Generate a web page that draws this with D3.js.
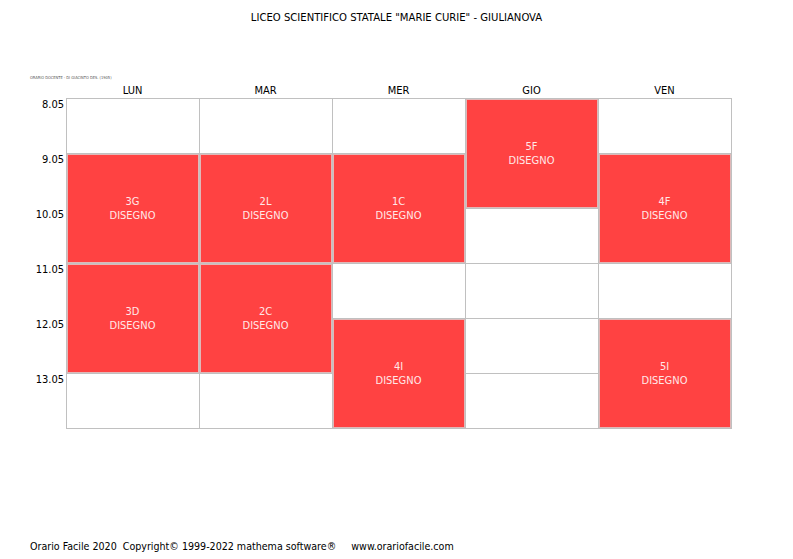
<!DOCTYPE html>
<meta charset="utf-8">
<head>
    <title>Orario</title>
</head>
<style>
    body { margin: 0; background: #fff; }
    text { font-family: "DejaVu Sans Condensed", "DejaVu Sans", sans-serif; font-stretch: condensed; }
</style>
<div id="chart"></div>
<script src="https://d3js.org/d3.v7.min.js"></script>
<script>
    // timetable data
    var days = ["LUN", "MAR", "MER", "GIO", "VEN"];
    var times = ["8.05", "9.05", "10.05", "11.05", "12.05", "13.05"];
    var lessonDay = ["LUN", "LUN", "MAR", "MAR", "MER", "MER", "GIO", "VEN", "VEN"];
    var lessonStart = ["9.05", "11.05", "9.05", "11.05", "9.05", "12.05", "8.05", "9.05", "12.05"];
    var lessonHours = [2, 2, 2, 2, 2, 2, 2, 2, 2];
    var lessonClass = ["3G", "3D", "2L", "2C", "1C", "4I", "5F", "4F", "5I"];
    var lessonSubject = ["DISEGNO", "DISEGNO", "DISEGNO", "DISEGNO", "DISEGNO", "DISEGNO", "DISEGNO", "DISEGNO", "DISEGNO"];

    var W = 793, H = 559;
    var svg = d3.select("#chart").append("svg")
        .attr("width", W).attr("height", H);

    var x = d3.scaleBand().domain(days).range([66, 731]);
    var y = d3.scaleBand().domain(times).range([98, 428]);

    var lessons = lessonDay.map(function(d, i) {
        return {day: d, start: lessonStart[i], hours: lessonHours[i],
                cls: lessonClass[i], subj: lessonSubject[i]};
    });

    // which slots are taken by a lesson
    var taken = {};
    lessons.forEach(function(l) {
        var s = times.indexOf(l.start);
        for (var k = 0; k < l.hours; k++) taken[l.day + "|" + times[s + k]] = true;
    });
    var empty = [];
    days.forEach(function(d) {
        times.forEach(function(t) {
            if (!taken[d + "|" + t]) empty.push({day: d, time: t});
        });
    });

    svg.append("text")
        .attr("x", W / 2).attr("y", 21)
        .attr("text-anchor", "middle")
        .attr("font-size", "11.2px")
        .text('LICEO SCIENTIFICO STATALE "MARIE CURIE" - GIULIANOVA');

    svg.append("text")
        .attr("x", 30).attr("y", 79)
        .attr("font-size", "4px")
        .attr("fill", "#555")
        .text("ORARIO DOCENTE  -  DI GIACINTO DES. (1905)");

    // day headers
    svg.selectAll(".day").data(days).enter().append("text")
        .attr("class", "day")
        .attr("x", function(d) { return x(d) + x.bandwidth() / 2; })
        .attr("y", 94)
        .attr("text-anchor", "middle")
        .attr("font-size", "11px")
        .text(function(d) { return d; });

    // hour labels
    svg.selectAll(".hour").data(times).enter().append("text")
        .attr("class", "hour")
        .attr("x", 64)
        .attr("y", function(d) { return y(d) + 10; })
        .attr("text-anchor", "end")
        .attr("font-size", "11px")
        .text(function(d) { return d; });

    // empty cells
    svg.selectAll(".cell").data(empty).enter().append("rect")
        .attr("class", "cell")
        .attr("x", function(d) { return x(d.day) + 0.5; })
        .attr("y", function(d) { return y(d.time) + 0.5; })
        .attr("width", x.bandwidth())
        .attr("height", y.bandwidth())
        .attr("fill", "#fff")
        .attr("stroke", "#c0c0c0");

    // lesson frames
    svg.selectAll(".frame").data(lessons).enter().append("rect")
        .attr("class", "frame")
        .attr("x", function(d) { return x(d.day) + 0.5; })
        .attr("y", function(d) { return y(d.start) + 0.5; })
        .attr("width", x.bandwidth())
        .attr("height", function(d) { return y.bandwidth() * d.hours; })
        .attr("fill", "#fff")
        .attr("stroke", "#c0c0c0");

    var g = svg.selectAll(".lesson").data(lessons).enter().append("g")
        .attr("class", "lesson");

    g.append("rect")
        .attr("x", function(d) { return x(d.day) + 1.5; })
        .attr("y", function(d) { return y(d.start) + 1.5; })
        .attr("width", x.bandwidth() - 2)
        .attr("height", function(d) { return y.bandwidth() * d.hours - 2; })
        .attr("fill", "#ff4242")
        .attr("stroke", "#e0b8b8");

    g.append("text")
        .attr("x", function(d) { return x(d.day) + x.bandwidth() / 2; })
        .attr("y", function(d) { return y(d.start) + y.bandwidth() * d.hours / 2 - 3; })
        .attr("text-anchor", "middle")
        .attr("font-size", "11px")
        .attr("fill", "#ffe8e8")
        .text(function(d) { return d.cls; });

    g.append("text")
        .attr("x", function(d) { return x(d.day) + x.bandwidth() / 2; })
        .attr("y", function(d) { return y(d.start) + y.bandwidth() * d.hours / 2 + 11; })
        .attr("text-anchor", "middle")
        .attr("font-size", "11px")
        .attr("fill", "#ffe8e8")
        .text(function(d) { return d.subj; });

    svg.append("text")
        .attr("x", 30).attr("y", 550)
        .attr("font-size", "10.6px")
        .attr("xml:space", "preserve")
        .style("white-space", "pre")
        .text("Orario Facile 2020  Copyright\u00a9 1999-2022 mathema software\u00ae     www.orariofacile.com");
</script>
